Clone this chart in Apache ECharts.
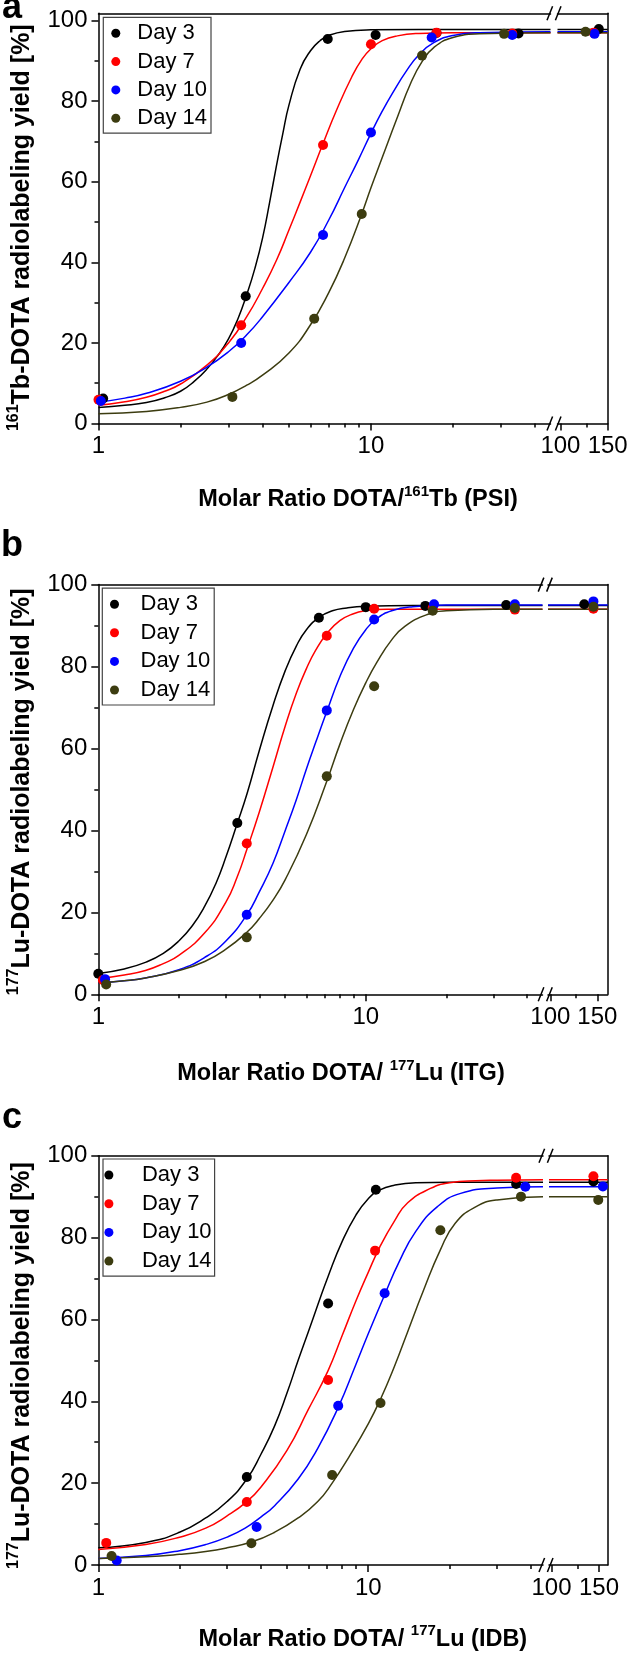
<!DOCTYPE html>
<html><head><meta charset="utf-8">
<script src="https://cdn.jsdelivr.net/npm/echarts@6/dist/echarts.min.js"></script>
<style>html,body{margin:0;padding:0;background:#fff}#c{width:629px;height:1653px}</style>
</head><body><div id="c"></div>
<script>
// ---------- data ----------
const dayNames = ['Day 3', 'Day 7', 'Day 10', 'Day 14'];
const yTickValues = [0, 20, 40, 60, 80, 100];
const xLabelsLeft = [1, 10];
const xMinorLeft = [2, 3, 4, 5, 6, 7, 8, 9, 20, 30, 40];
const xLabelsRight = [100, 150];
const xMinorRight = [125];

// Panel a (161Tb, PSI): measured points
const aPts3 = [[1.04, 6.2], [3.47, 31.6], [6.94, 95.4], [10.4, 96.4], [17.4, 96.9], [34.8, 96.8], [139, 97.9]];
const aPts7 = [[1.0, 5.9], [3.34, 24.4], [6.67, 69.1], [10.0, 94.1], [17.4, 97.0], [33, 96.8], [133, 97.0]];
const aPts10 = [[1.02, 5.6], [3.34, 20.0], [6.67, 46.8], [10.0, 72.2], [16.7, 95.8], [33, 96.4], [134, 96.7]];
const aPts14 = [[3.1, 6.6], [6.19, 26.0], [9.25, 52.0], [15.4, 91.3], [30.8, 96.7], [124, 97.2]];
// Panel a: fitted curves
const aFit3 = [[1, 4.0], [1.25, 4.5], [1.5, 5.2], [1.75, 6.4], [2, 8], [2.25, 10.5], [2.5, 13.5], [2.75, 17], [3, 21], [3.25, 26], [3.5, 32], [3.75, 38.5], [4, 46], [4.25, 55], [4.5, 64], [4.75, 72], [5, 79], [5.5, 88], [6, 92.5], [6.5, 95], [7, 96.3], [8, 97.3], [10, 97.7], [15, 97.8], [45.6, 97.8], [97.5, 97.8], [150, 97.8]];
const aFit7 = [[1, 4.5], [1.25, 5.4], [1.5, 6.5], [1.75, 8], [2, 9.8], [2.5, 14.5], [3, 20], [3.5, 26.5], [4, 33.5], [4.5, 40.5], [5, 48], [5.5, 55], [6, 61.5], [6.67, 69.5], [7.5, 78], [8.5, 86], [9.25, 90.3], [10, 93], [11, 95], [12.5, 96.2], [15, 96.8], [20, 97.0], [45.6, 97.0], [97.5, 97.0], [150, 97.0]];
const aFit10 = [[1, 5.3], [1.25, 6.3], [1.5, 7.5], [2, 10.5], [2.5, 14], [3, 17.8], [3.5, 22], [4, 26.5], [5, 35], [6, 42.5], [7, 50.5], [8, 58.5], [9, 65.5], [10, 72], [11, 77.5], [12, 82], [13.5, 87.5], [15, 91.5], [17, 94.5], [20, 96.3], [25, 97], [45.6, 97.2], [97.5, 97.2], [150, 97.2]];
const aFit14 = [[1, 2.4], [1.5, 3.0], [2, 4.0], [2.5, 5.3], [3, 7.2], [3.5, 9.5], [4, 12], [5, 17.5], [6, 24.5], [7, 32.5], [8, 41], [9.25, 52], [10, 58.5], [11, 66], [12.5, 76], [14, 84.5], [15.4, 89.8], [17, 93.3], [20, 95.8], [25, 96.7], [45.6, 97.0], [97.5, 97.0], [150, 97.0]];

// Panel b (177Lu, ITG)
const bPts3 = [[1.0, 5.0], [3.31, 41.8], [6.68, 91.9], [10.0, 94.5], [16.7, 94.8], [33.5, 95.0], [134, 95.2]];
const bPts7 = [[1.04, 3.5], [3.59, 36.8], [7.15, 87.5], [10.75, 94.1], [17.8, 94.3], [36.1, 93.9], [145, 94.1]];
const bPts10 = [[1.06, 3.7], [3.59, 19.4], [7.15, 69.3], [10.75, 91.5], [18.0, 95.2], [36.1, 95.2], [145, 95.9]];
const bPts14 = [[1.07, 2.4], [3.59, 13.9], [7.15, 53.2], [10.75, 75.2], [17.8, 93.6], [36.1, 94.3], [145, 94.6]];
const bFit3 = [[1, 5.1], [1.25, 6.2], [1.5, 7.8], [1.75, 10], [2, 13], [2.25, 16.8], [2.5, 21.5], [2.75, 27], [3, 33.5], [3.3, 41.5], [3.6, 49], [4, 59.5], [4.5, 70.5], [5, 79], [5.5, 85], [6, 89], [6.7, 92], [7.5, 93.6], [8.5, 94.3], [10, 94.7], [15, 94.9], [45.8, 94.9], [98, 94.9], [164, 94.9]];
const bFit7 = [[1, 3.8], [1.25, 4.7], [1.5, 5.8], [1.75, 7.5], [2, 9.5], [2.5, 15], [3, 22.5], [3.3, 28.5], [3.6, 35.5], [4, 44.5], [4.5, 55.5], [5, 65.5], [5.5, 73.5], [6, 79.5], [6.5, 84], [7.15, 88], [8, 91.2], [9, 92.9], [10, 93.6], [12, 94], [45.8, 94], [98, 94], [164, 94]];
const bFit10 = [[1, 2.8], [1.25, 3.3], [1.5, 4], [2, 6], [2.5, 9], [3, 13], [3.6, 19.5], [4, 25], [4.5, 32], [5, 40], [5.5, 47.5], [6, 55], [6.5, 61.5], [7.15, 69], [8, 77.5], [9, 84.5], [10, 89], [11, 91.7], [12.5, 93.6], [15, 94.6], [20, 95], [45.8, 95], [98, 95], [164, 95]];
const bFit14 = [[1, 2.8], [1.25, 3.3], [1.5, 4], [2, 5.8], [2.5, 8], [3, 11], [3.6, 15.2], [4, 18.5], [4.5, 23], [5, 28], [6, 39], [7.15, 52], [8, 61], [9, 69.5], [10, 76], [11, 81], [12.5, 86.5], [14, 89.8], [17, 92.7], [20, 93.6], [30, 94], [45.8, 94], [98, 94], [164, 94]];

// Panel c (177Lu, IDB)
const cPts3 = [[3.55, 21.5], [7.1, 63.9], [10.67, 91.7], [35.3, 93.1], [143, 93.7]];
const cPts7 = [[1.07, 5.4], [3.55, 15.4], [7.1, 45.2], [10.6, 76.8], [35.3, 94.6], [143, 95.0]];
const cPts10 = [[1.17, 1.1], [3.86, 9.3], [7.74, 38.9], [11.5, 66.4], [38.2, 92.4], [155, 92.5]];
const cPts14 = [[1.12, 2.2], [3.69, 5.3], [7.35, 22.0], [11.1, 39.6], [18.5, 81.8], [36.8, 90.0], [149, 89.2]];
const cFit3 = [[1, 4.2], [1.5, 5.5], [2, 8], [2.5, 11.5], [3, 15.5], [3.55, 21], [4, 27], [4.5, 34], [5, 42], [5.5, 50], [6, 57], [6.5, 63.5], [7.1, 70.5], [8, 79], [9, 85.5], [10, 89.5], [11, 91.6], [12.5, 92.8], [15, 93.4], [20, 93.5], [44.4, 93.5], [97.9, 93.5], [161.5, 93.5]];
const cFit7 = [[1, 3.8], [1.5, 5], [2, 6.8], [2.5, 9], [3, 12], [3.55, 15.5], [4, 19], [5, 28], [6, 38], [7.1, 47.5], [8, 56], [9, 64.5], [10, 71.5], [11, 77.5], [12.5, 84], [14, 88.5], [17, 92], [20, 93.4], [25, 93.9], [30, 94], [44.4, 94.1], [97.9, 94.1], [161.5, 94.1]];
const cFit10 = [[1, 1.6], [1.5, 2.3], [2, 3.5], [2.5, 5], [3, 6.8], [3.5, 9], [4, 11.7], [4.5, 14.5], [5.5, 21], [6.5, 28.5], [7.74, 38.5], [9, 49], [10, 56.5], [11.5, 66], [13, 74], [15, 81.5], [18, 87.5], [22, 90.8], [30, 92.1], [44.4, 92.4], [97.9, 92.4], [161.5, 92.4]];
const cFit14 = [[1, 1.6], [1.5, 2], [2, 2.6], [2.5, 3.3], [3, 4.2], [3.69, 5.6], [4.5, 8], [5.5, 11.5], [6.5, 15.5], [7.35, 20], [8.5, 26.5], [10, 34.5], [11.1, 40.5], [12.5, 48.5], [14, 57], [16, 67], [18.5, 77], [21, 83.5], [25, 87.5], [30, 89.2], [44.4, 90], [97.9, 90], [161.5, 90]];

// ---------- styling / layout ----------
const FONT = '"Liberation Sans", Arial, Helvetica, sans-serif';
const dayColors = ['#000000', '#ff0000', '#0000ff', '#3c3c10'];

const panels = [
  { letter: 'a', letterY: 8, pts: [aPts3, aPts7, aPts10, aPts14], fits: [aFit3, aFit7, aFit10, aFit14],
    top: 13.3, height: 410.2, ymax: 101.8,
    Lleft: 98.5, Lright: 550.5, Lmax: 45.6, Rleft: 557.5, Rright: 607.7, Rmin: 97.5, Rmax: 150,
    legend: { left: 103.3, top: 17.3, itemWidth: 33, gap: 6.3, pad: [5, 4, 4, 8] },
    xTitle: { x: 358, y: 498, iso: '161', el: 'Tb (PSI)', sep: 'Molar Ratio DOTA/' },
    yTitle: { y: 227.7, iso: '161', el: 'Tb-DOTA radiolabeling yield [%]' } },
  { letter: 'b', letterY: 546, pts: [bPts3, bPts7, bPts10, bPts14], fits: [bFit3, bFit7, bFit10, bFit14],
    top: 584.6, height: 409.7, ymax: 100,
    Lleft: 98.3, Lright: 542.5, Lmax: 45.8, Rleft: 548, Rright: 607.7, Rmin: 98, Rmax: 164,
    legend: { left: 102.3, top: 588.2, itemWidth: 42, gap: 6.6, pad: [5, 4, 4, 7.7] },
    xTitle: { x: 341, y: 1072, iso: '177', el: 'Lu (ITG)', sep: 'Molar Ratio DOTA/ ' },
    yTitle: { y: 791.8, iso: '177', el: 'Lu-DOTA radiolabeling yield [%]' } },
  { letter: 'c', letterY: 1118, pts: [cPts3, cPts7, cPts10, cPts14], fits: [cFit3, cFit7, cFit10, cFit14],
    top: 1155.7, height: 409.3, ymax: 100,
    Lleft: 98.3, Lright: 543, Lmax: 44.4, Rleft: 549, Rright: 607.7, Rmin: 97.9, Rmax: 161.5,
    legend: { left: 103, top: 1159, itemWidth: 56, gap: 6.7, pad: [5, 3, 4, 1.4] },
    xTitle: { x: 362.8, y: 1637.6, iso: '177', el: 'Lu (IDB)', sep: 'Molar Ratio DOTA/ ' },
    yTitle: { y: 1365.6, iso: '177', el: 'Lu-DOTA radiolabeling yield [%]' } }
];

const axisLineStyle = { color: '#000', width: 1.5 };
const grids = [], xAxes = [], yAxes = [], series = [], legends = [], graphics = [];

function xAxesFor(gridIndex, min, max, labels, minor) {
  const base = { type: 'log', logBase: 10, gridIndex, min, max, splitLine: { show: false }, minorTick: { show: false }, minorSplitLine: { show: false } };
  return [
    Object.assign({}, base, { position: 'bottom', axisLine: { show: true, lineStyle: axisLineStyle },
      axisTick: { show: true, customValues: labels, length: 7, lineStyle: axisLineStyle },
      axisLabel: { show: true, customValues: labels, fontSize: 24, fontFamily: FONT, color: '#000', margin: 11 } }),
    Object.assign({}, base, { position: 'bottom', axisLine: { show: false },
      axisTick: { show: true, customValues: minor, length: 4, lineStyle: axisLineStyle },
      axisLabel: { show: false } }),
    Object.assign({}, base, { position: 'top', axisLine: { show: true, lineStyle: axisLineStyle },
      axisTick: { show: false }, axisLabel: { show: false } })
  ];
}

panels.forEach((p, pi) => {
  const gL = grids.length;
  grids.push({ left: p.Lleft, top: p.top, width: p.Lright - p.Lleft, height: p.height, outerBoundsMode: 'none', containLabel: false });
  grids.push({ left: p.Rleft, top: p.top, width: p.Rright - p.Rleft, height: p.height, outerBoundsMode: 'none', containLabel: false });
  const xL = xAxes.length;
  xAxes.push(...xAxesFor(gL, 1, p.Lmax, xLabelsLeft, xMinorLeft));
  const xR = xAxes.length;
  xAxes.push(...xAxesFor(gL + 1, p.Rmin, p.Rmax, xLabelsRight, xMinorRight));
  const yL = yAxes.length;
  yAxes.push({ type: 'value', gridIndex: gL, min: 0, max: p.ymax, interval: 20, position: 'left',
    axisLine: { show: true, lineStyle: axisLineStyle },
    axisTick: { show: true, customValues: yTickValues, length: 7, lineStyle: axisLineStyle },
    minorTick: { show: true, splitNumber: 2, length: 4, lineStyle: axisLineStyle },
    axisLabel: { customValues: yTickValues, fontSize: 24, fontFamily: FONT, color: '#000', margin: 11 },
    splitLine: { show: false }, minorSplitLine: { show: false } });
  yAxes.push({ type: 'value', gridIndex: gL + 1, min: 0, max: p.ymax, position: 'right',
    axisLine: { show: true, lineStyle: axisLineStyle }, axisTick: { show: false }, axisLabel: { show: false },
    splitLine: { show: false } });

  for (let d = 0; d < 4; d++) {
    const fitL = p.fits[d].filter(v => v[0] < 70), fitR = p.fits[d].filter(v => v[0] >= 70);
    const ptL = p.pts[d].filter(v => v[0] < 70), ptR = p.pts[d].filter(v => v[0] >= 70);
    const lineBase = { type: 'line', symbol: 'none', smooth: 0.5, silent: true, z: 2,
      lineStyle: { color: dayColors[d], width: 1.5 }, itemStyle: { color: dayColors[d] }, animation: false };
    series.push(Object.assign({}, lineBase, { name: 'fit' + pi + d + 'L', xAxisIndex: xL, yAxisIndex: yL, data: fitL }));
    series.push(Object.assign({}, lineBase, { name: 'fit' + pi + d + 'R', xAxisIndex: xR, yAxisIndex: yL + 1, data: fitR }));
    const ptBase = { type: 'scatter', name: dayNames[d], symbol: 'circle', symbolSize: 10, z: 3,
      itemStyle: { color: dayColors[d], opacity: 1 }, animation: false, clip: false };
    series.push(Object.assign({}, ptBase, { xAxisIndex: xL, yAxisIndex: yL, data: ptL }));
    series.push(Object.assign({}, ptBase, { xAxisIndex: xR, yAxisIndex: yL + 1, data: ptR }));
  }

  legends.push({ orient: 'vertical', left: p.legend.left, top: p.legend.top,
    data: dayNames.map(n => ({ name: n, icon: 'circle' })),
    itemWidth: p.legend.itemWidth, itemHeight: 9, itemGap: p.legend.gap,
    padding: p.legend.pad, borderColor: '#444', borderWidth: 1.2, borderRadius: 0,
    backgroundColor: '#fff', selectedMode: false,
    textStyle: { fontSize: 22, fontFamily: FONT, color: '#000' } });

  graphics.push({ type: 'text', x: 12, y: p.letterY, style: { text: p.letter, font: 'bold 36px ' + FONT,
    fill: '#000', align: 'center', verticalAlign: 'middle' } });
  graphics.push({ type: 'text', x: p.xTitle.x, y: p.xTitle.y, style: {
    text: '{b|' + p.xTitle.sep + '}{s|' + p.xTitle.iso + '}{b|' + p.xTitle.el + '}',
    rich: { b: { fontSize: 23.5, fontWeight: 'bold', fontFamily: FONT, fill: '#000', lineHeight: 28, verticalAlign: 'bottom' },
            s: { fontSize: 15, fontWeight: 'bold', fontFamily: FONT, fill: '#000', verticalAlign: 'top', lineHeight: 28 } },
    align: 'center', verticalAlign: 'middle' } });
  graphics.push({ type: 'text', x: 20, y: p.yTitle.y, rotation: Math.PI / 2, style: {
    text: '{s|' + p.yTitle.iso + '}{b|' + p.yTitle.el + '}',
    rich: { b: { fontSize: 25, fontWeight: 'bold', fontFamily: FONT, fill: '#000', lineHeight: 29, verticalAlign: 'bottom' },
            s: { fontSize: 16, fontWeight: 'bold', fontFamily: FONT, fill: '#000', verticalAlign: 'top', lineHeight: 29 } },
    align: 'center', verticalAlign: 'middle' } });
  const gc = (p.Lright + p.Rleft) / 2;
  [p.top, p.top + p.height].forEach(yy => {
    [-4.2, 4.2].forEach(dx => {
      graphics.push({ type: 'line', z: 100, shape: { x1: gc + dx - 2.8, y1: yy + 7, x2: gc + dx + 2.8, y2: yy - 7 },
        style: { stroke: '#000', lineWidth: 1.5 } });
    });
  });
});

const chart = echarts.init(document.getElementById('c'), null, { renderer: 'canvas' });
chart.setOption({
  animation: false,
  backgroundColor: '#fff',
  textStyle: { fontFamily: FONT },
  grid: grids, xAxis: xAxes, yAxis: yAxes, series, legend: legends, graphic: graphics,
  tooltip: { show: false }
});
</script>
</body></html>
